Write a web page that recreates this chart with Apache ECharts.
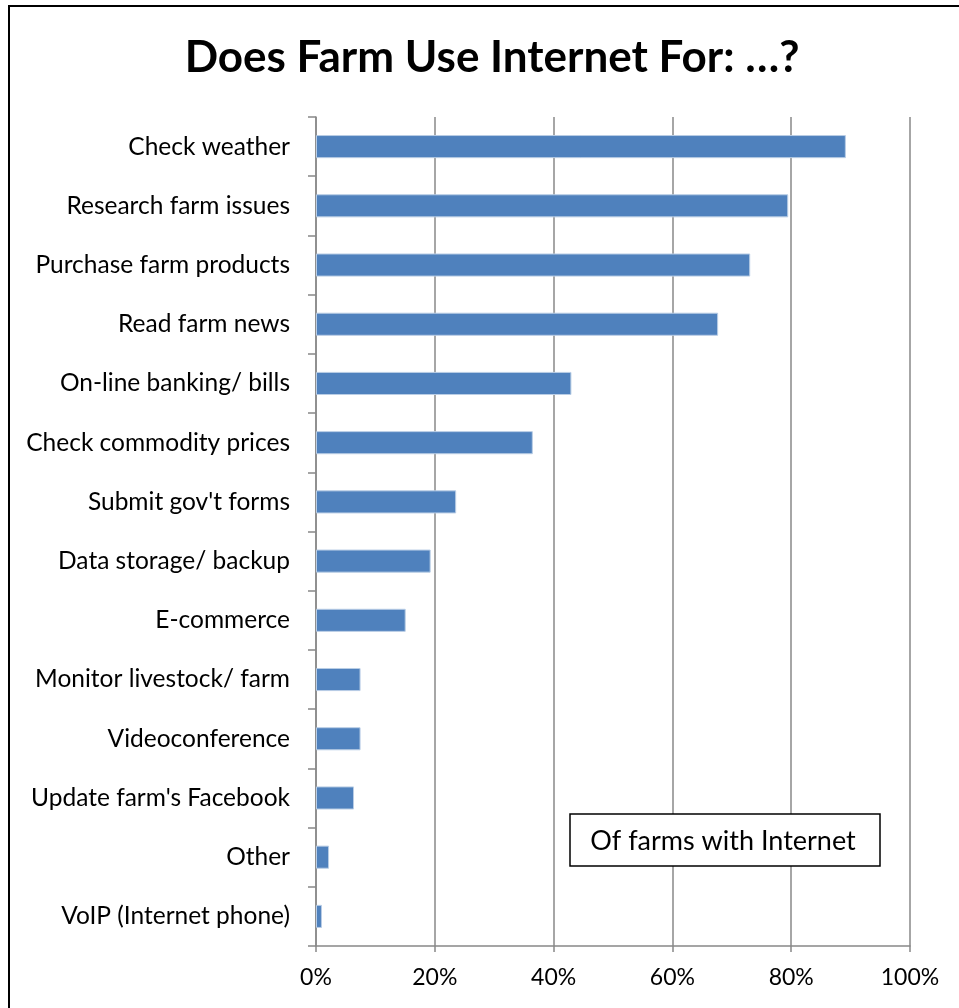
<!DOCTYPE html>
<html>
<head>
<meta charset="utf-8">
<script src="https://cdn.jsdelivr.net/npm/echarts@6/dist/echarts.min.js"></script>
<style>
  html, body { margin: 0; padding: 0; background: #fff; }
  #main { width: 959px; height: 1008px; }
</style>
</head>
<body>
<div id="main"></div>
<script>
var categories = [
    'Check weather',
    'Research farm issues',
    'Purchase farm products',
    'Read farm news',
    'On-line banking/ bills',
    'Check commodity prices',
    "Submit gov't forms",
    'Data storage/ backup',
    'E-commerce',
    'Monitor livestock/ farm',
    'Videoconference',
    "Update farm's Facebook",
    'Other',
    'VoIP (Internet phone)'
];
var shares = [89.2, 79.5, 73.1, 67.7, 43.0, 36.5, 23.6, 19.3, 15.1, 7.5, 7.5, 6.4, 2.2, 1.0];
var ticks = [0, 20, 40, 60, 80, 100];

var font = 'Lato, "Open Sans", sans-serif';

var option = {
    backgroundColor: '#fff',
    animation: false,
    title: {
        text: 'Does Farm Use Internet For: \u2026?',
        left: 487,
        textAlign: 'center',
        top: 31,
        textStyle: {
            fontFamily: font,
            fontWeight: 'bold',
            fontSize: 44,
            color: '#000'
        }
    },
    grid: {
        left: 316,
        right: 49,
        top: 117,
        bottom: 62,
        containLabel: false
    },
    xAxis: {
        type: 'value',
        min: ticks[0],
        max: ticks[ticks.length - 1],
        interval: 20,
        axisLine: { show: true, lineStyle: { color: '#888', width: 1.5 } },
        axisTick: { show: true, length: 6, lineStyle: { color: '#888', width: 1.5 } },
        splitLine: { show: true, lineStyle: { color: '#888', width: 1.5 } },
        axisLabel: {
            margin: 20,
            fontFamily: font,
            fontSize: 23,
            color: '#000',
            formatter: '{value}%'
        }
    },
    yAxis: {
        type: 'category',
        inverse: true,
        data: categories,
        axisLine: { show: true, lineStyle: { color: '#888', width: 1.5 } },
        axisTick: { show: true, length: 8, lineStyle: { color: '#888', width: 1.5 } },
        axisLabel: {
            margin: 26,
            fontFamily: font,
            fontSize: 24.5,
            color: '#000'
        }
    },
    series: [
        {
            type: 'bar',
            data: shares,
            barCategoryGap: '61%',
            itemStyle: {
                color: '#4F81BD',
                borderColor: '#B9CDE5',
                borderWidth: 1
            }
        }
    ],
    graphic: [
        {
            type: 'rect',
            shape: { x: 9, y: 6, width: 1000, height: 1100 },
            style: { fill: null, stroke: '#000', lineWidth: 2 },
            z: 100
        },
        {
            type: 'rect',
            shape: { x: 570, y: 814, width: 310, height: 52 },
            style: { fill: '#fff', stroke: '#000', lineWidth: 1.5 },
            z: 100
        },
        {
            type: 'text',
            x: 723,
            y: 841,
            style: {
                text: 'Of farms with Internet',
                fontFamily: font,
                fontSize: 27,
                fill: '#000',
                align: 'center',
                verticalAlign: 'middle'
            },
            z: 101
        }
    ]
};

var myChart = echarts.init(document.getElementById('main'));
myChart.setOption(option);
</script>
</body>
</html>
